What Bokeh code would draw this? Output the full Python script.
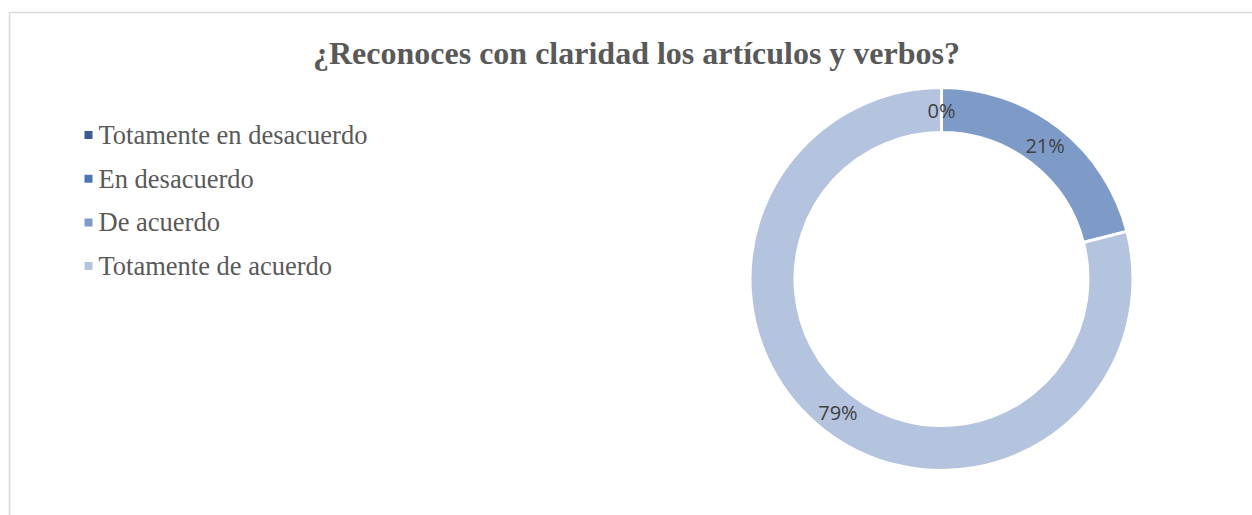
import numpy as np
from bokeh.plotting import figure
from bokeh.models import Range1d, ColumnDataSource
from bokeh.core.properties import value
from bokeh.embed import file_html
from bokeh.resources import INLINE

# ---- data ----
categories = ["Totamente en desacuerdo", "En desacuerdo", "De acuerdo", "Totamente de acuerdo"]
percent = [0, 0, 21, 79]
colors = ["#3A5D92", "#4A77B4", "#7E9BC8", "#B4C3DE"]
title_text = "¿Reconoces con claridad los artículos y verbos?"

# ---- layout ----
W, H = 1252, 515
p = figure(width=W, height=H, output_backend="svg", toolbar_location=None,
           x_range=Range1d(0, W), y_range=Range1d(0, H),
           x_axis_location=None, y_axis_location=None, min_border=0)
p.grid.visible = False
p.outline_line_color = None
p.background_fill_color = "white"

def Y(sy):
    return H - sy

def X(sx):
    return sx

# chart border
p.quad(left=[X(9)], right=[W + 20], top=[Y(12)], bottom=[-20],
       fill_color=None, line_color="#D9D9D9", line_width=1.5)

# title
p.text(x=[X(636)], y=[Y(52)], text=[title_text], text_align="center",
       text_baseline="middle", text_font=value("Liberation Serif"),
       text_font_style="bold", text_font_size="32px", text_color="#595959")

# donut
cx, cy = X(941), Y(278.5)
r_out, r_in = 191.5, 146.5
vals = np.array(percent, dtype=float)
frac = vals / vals.sum()
c1 = np.cumsum(frac)
c0 = c1 - frac
start = np.pi / 2 - 2 * np.pi * c0
end = np.pi / 2 - 2 * np.pi * c1
mask = vals > 0
src = ColumnDataSource(dict(start=start[mask], end=end[mask],
                            color=[c for c, m in zip(colors, mask) if m]))
p.annular_wedge(x=cx, y=cy, inner_radius=r_in, outer_radius=r_out,
                start_angle="start", end_angle="end", direction="clock",
                fill_color="color", line_color="white", line_width=3, source=src)

# data labels (one per distinct position)
mid = np.pi / 2 - 2 * np.pi * (c0 + c1) / 2
r_lab = (r_in + r_out) / 2
lx, ly, lt = [], [], []
seen = set()
for m, v in zip(mid, percent):
    key = round(m, 6)
    if key in seen:
        continue
    seen.add(key)
    lx.append(cx + r_lab * np.cos(m))
    ly.append(cy + r_lab * np.sin(m))
    lt.append(f"{v}%")
p.text(x=lx, y=ly, text=lt, text_align="center", text_baseline="middle",
       text_font=value("Open Sans"), text_font_size="20px", text_color="#404040")

# legend
row_y = [Y(134.5 + 43.7 * i) for i in range(len(categories))]
p.scatter(x=[X(88)] * len(categories), y=row_y, marker="square", size=8,
          fill_color=colors, line_color=None)
p.text(x=[X(98)] * len(categories), y=row_y, text=categories,
       text_align="left", text_baseline="middle",
       text_font=value("Liberation Serif"), text_font_size="26.5px",
       text_color="#595959")

open("out.html", "w").write(file_html(p, INLINE))
